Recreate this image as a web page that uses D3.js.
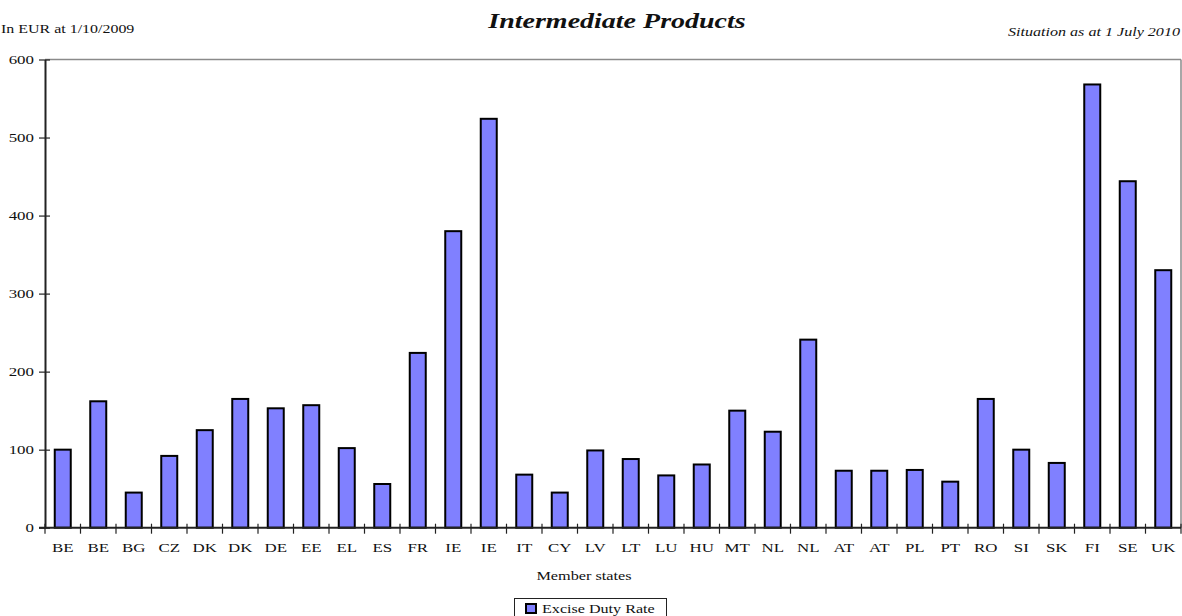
<!DOCTYPE html>
<html>
<head>
<meta charset="utf-8">
<script src="https://cdn.jsdelivr.net/npm/d3@7"></script>
<style>
  html, body { margin: 0; padding: 0; background: #fff; }
  svg { display: block; }
  text { font-family: "Liberation Serif", "Times New Roman", serif; fill: #111; }
</style>
</head>
<body>
<svg id="chart" width="1182" height="616"></svg>
<script>
const categories = ["BE","BE","BG","CZ","DK","DK","DE","EE","EL","ES","FR","IE","IE","IT","CY","LV","LT","LU","HU","MT","NL","NL","AT","AT","PL","PT","RO","SI","SK","FI","SE","UK"];
const values = [100,162,45,92,125,165,153,157,102,56,224,380,524,68,45,99,88,67,81,150,123,241,73,73,74,59,165,100,83,568,444,330];
const yTicks = [0,100,200,300,400,500,600];
const title = "Intermediate Products";
const unitLabel = "In EUR at 1/10/2009";
const situationLabel = "Situation as at 1 July 2010";
const xAxisTitle = "Member states";
const seriesName = "Excise Duty Rate";

const svg = d3.select("#chart");
const margin = {left: 45, right: 1181, top: 59.5, bottom: 527.7};
const stretch = 1.3;

const x = d3.scaleBand()
  .domain(d3.range(categories.length))
  .range([margin.left, margin.right])
  .paddingInner(0).paddingOuter(0);

const y = d3.scaleLinear().domain([0, 600]).range([margin.bottom, margin.top]);

// plot frame (top & right gray)
svg.append("line").attr("x1", margin.left).attr("x2", margin.right)
  .attr("y1", margin.top).attr("y2", margin.top)
  .attr("stroke", "#8a8a8a").attr("stroke-width", 1.5);
svg.append("line").attr("x1", margin.right).attr("x2", margin.right)
  .attr("y1", margin.top).attr("y2", margin.bottom)
  .attr("stroke", "#8a8a8a").attr("stroke-width", 1.5);

// bars
const bw = 16;
svg.append("g").selectAll("rect").data(values).join("rect")
  .attr("x", (d, i) => x(i) + x.bandwidth() / 2 - bw / 2)
  .attr("y", d => y(d))
  .attr("width", bw)
  .attr("height", d => y(0) - y(d))
  .attr("fill", "#8080ff")
  .attr("stroke", "#000")
  .attr("stroke-width", 2);

// y axis
const yAxis = d3.axisLeft(y).tickValues(yTicks).tickSize(6).tickSizeOuter(0).tickFormat(d3.format("d"));
const gy = svg.append("g").attr("transform", `translate(${margin.left},0)`).call(yAxis);
gy.select(".domain").attr("stroke", "#222").attr("stroke-width", 2);
gy.selectAll(".tick line").attr("stroke", "#222").attr("x2", 5).attr("x1", -6).attr("stroke-width", 1.2);
gy.selectAll(".tick text").attr("x", 0)
  .attr("transform", `translate(-11,0) scale(${stretch},1)`)
  .style("font-size", "13px")
  .style("font-family", "'Liberation Serif', serif").attr("fill", "#222");

// x axis line & ticks at band boundaries
const gx = svg.append("g").attr("transform", `translate(0,${margin.bottom})`);
gx.append("line").attr("x1", margin.left - 6).attr("x2", margin.right)
  .attr("stroke", "#222").attr("stroke-width", 2);
const bounds = d3.range(categories.length + 1).map(i => i < categories.length ? x(i) : x(i - 1) + x.bandwidth());
gx.selectAll("line.tk").data(bounds).join("line").attr("class", "tk")
  .attr("x1", d => d).attr("x2", d => d).attr("y1", -4).attr("y2", 6)
  .attr("stroke", "#222").attr("stroke-width", 1.2);
gx.selectAll("text").data(categories).join("text")
  .attr("transform", (d, i) => `translate(${x(i) + x.bandwidth() / 2},24) scale(${stretch},1)`)
  .attr("text-anchor", "middle")
  .style("font-size", "13px")
  .text(d => d);

// titles
svg.append("text").attr("transform", "translate(617,28) scale(1.4,1)").attr("text-anchor", "middle")
  .style("font-size", "20px").style("font-weight", "bold").style("font-style", "italic")
  .text(title);
svg.append("text").attr("transform", "translate(1,33) scale(1.33,1)").style("font-size", "12px").text(unitLabel);
svg.append("text").attr("transform", "translate(1180,36) scale(1.4,1)").attr("text-anchor", "end")
  .style("font-size", "11.5px").style("font-style", "italic").text(situationLabel);
svg.append("text").attr("transform", "translate(584,580) scale(1.25,1)").attr("text-anchor", "middle")
  .style("font-size", "13px").text(xAxisTitle);

// legend
const lg = svg.append("g");
lg.append("rect").attr("x", 514.5).attr("y", 598.5).attr("width", 152).attr("height", 24)
  .attr("fill", "#fff").attr("stroke", "#222").attr("stroke-width", 1);
lg.append("rect").attr("x", 526).attr("y", 604).attr("width", 10).attr("height", 9)
  .attr("fill", "#8080ff").attr("stroke", "#000").attr("stroke-width", 2);
lg.append("text").attr("transform", "translate(542,613) scale(1.24,1)").style("font-size", "13px").text(seriesName);
</script>
</body>
</html>
